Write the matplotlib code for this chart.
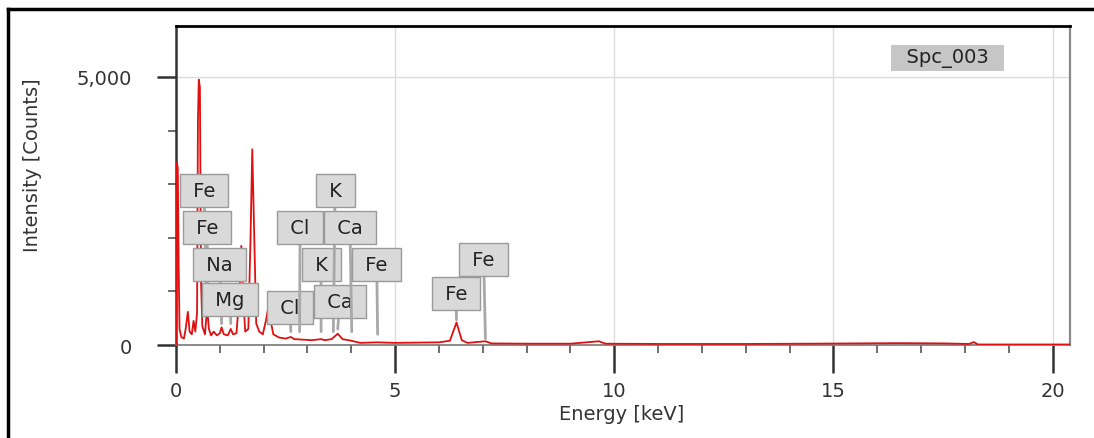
import matplotlib
matplotlib.use("Agg")
import matplotlib.pyplot as plt
from matplotlib.ticker import MultipleLocator, FuncFormatter
from matplotlib.lines import Line2D

plt.rcParams['font.family'] = ['DejaVu Sans']

# spectrum (keV, counts)
energy = [0.00, 0.02, 0.04, 0.06, 0.08, 0.12, 0.18, 0.22, 0.27, 0.31, 0.36, 0.40,
          0.44, 0.48, 0.50, 0.52, 0.545, 0.57, 0.60, 0.66, 0.71, 0.75, 0.80, 0.86,
          0.93, 1.00, 1.04, 1.09, 1.18, 1.25, 1.30, 1.38, 1.45, 1.49, 1.53, 1.58,
          1.65, 1.70, 1.74, 1.78, 1.83, 1.90, 1.98, 2.05, 2.10, 2.16, 2.22, 2.35,
          2.50, 2.62, 2.70, 2.90, 3.10, 3.31, 3.40, 3.55, 3.69, 3.80, 4.00, 4.20,
          4.60, 5.00, 5.50, 6.00, 6.25, 6.40, 6.52, 6.65, 7.06, 7.20, 8.00, 9.00,
          9.65, 9.80, 11.0, 13.0, 14.5, 15.5, 16.5, 17.5, 18.1, 18.2, 18.3, 19.0, 20.4]
counts = [0, 3400, 3300, 1500, 300, 150, 120, 300, 620, 250, 200, 450,
          250, 600, 4200, 4950, 4800, 1200, 350, 200, 700, 300, 180, 250,
          180, 220, 330, 200, 180, 300, 200, 220, 1000, 1850, 900, 250,
          300, 2000, 3650, 2200, 400, 250, 200, 450, 680, 450, 200, 140,
          120, 150, 110, 100, 90, 110, 90, 110, 210, 110, 80, 40,
          50, 40, 45, 50, 80, 420, 90, 40, 70, 30, 25, 25,
          70, 25, 20, 20, 25, 30, 35, 30, 20, 55, 10, 10, 10]

# peak labels: element, line energy, tip height, label position (keV, counts)
elements = ['Fe', 'Fe', 'Na', 'Mg', 'Cl', 'Cl', 'K', 'K', 'Ca', 'Ca', 'Fe', 'Fe', 'Fe']
line_kev = [0.70, 0.72, 1.04, 1.25, 2.62, 2.82, 3.31, 3.59, 3.69, 4.01, 4.60, 6.40, 7.06]
tip_cnt = [800, 800, 400, 400, 250, 250, 250, 250, 300, 250, 200, 470, 120]
label_kev = [0.64, 0.71, 1.00, 1.23, 2.60, 2.83, 3.31, 3.63, 3.74, 3.97, 4.58, 6.39, 7.02]
label_cnt = [2873, 2201, 1511, 858, 709, 2183, 1511, 2873, 821, 2183, 1493, 970, 1604]

fig = plt.figure(figsize=(10.94, 4.39), dpi=100)
ax = fig.add_axes([0.1609, 0.2118, 0.8172, 0.7267])

ax.plot(energy, counts, color='#e01010', lw=1.3, zorder=3)

for el, e, t, lx, ly in zip(elements, line_kev, tip_cnt, label_kev, label_cnt):
    ax.annotate(' ' + el + ' ', xy=(e, t), xytext=(lx, ly), ha='center', va='center',
                fontsize=14, color='#222222', zorder=4,
                bbox=dict(boxstyle='square,pad=0.36', fc='#d9d9d9', ec='#9a9a9a', lw=1),
                arrowprops=dict(arrowstyle='-', color='#a8a8a8', lw=2, shrinkA=0, shrinkB=0))

ax.text(17.6, 5354, '  Spc_003  ', ha='center', va='center', fontsize=14, color='#222222',
        bbox=dict(boxstyle='square,pad=0.16', fc='#c6c6c6', ec='none'))

ax.set_xlim(0, 20.4)
ax.set_ylim(0, 5950)
ax.xaxis.set_major_locator(MultipleLocator(5))
ax.xaxis.set_minor_locator(MultipleLocator(1))
ax.yaxis.set_major_locator(MultipleLocator(5000))
ax.yaxis.set_minor_locator(MultipleLocator(1000))
ax.yaxis.set_major_formatter(FuncFormatter(lambda v, p: f'{int(v):,}'))

ax.grid(True, which='major', color='#dcdcdc', lw=1)
ax.set_axisbelow(True)

ax.tick_params(axis='x', which='major', length=20, width=1.8, pad=6, labelsize=14,
               color='#333333', labelcolor='#333333')
ax.tick_params(axis='x', which='minor', length=6, width=1.2, color='#555555')
ax.tick_params(axis='y', which='major', length=14, width=1.8, pad=18, labelsize=14,
               color='#333333', labelcolor='#333333')
ax.tick_params(axis='y', which='minor', length=6, width=1.2, color='#555555')

ax.spines['top'].set_color('black')
ax.spines['top'].set_linewidth(2)
ax.spines['left'].set_color('#333333')
ax.spines['left'].set_linewidth(1.8)
ax.spines['right'].set_color('#8a8a8a')
ax.spines['right'].set_linewidth(1.6)
ax.spines['bottom'].set_color('#777777')
ax.spines['bottom'].set_linewidth(1.2)

ax.set_ylabel('Intensity [Counts]', fontsize=14, color='#333333')
ax.yaxis.set_label_coords(-0.150, 0.567)
ax.set_xlabel('Energy [keV]', fontsize=14, color='#333333')
ax.xaxis.set_label_coords(0.498, -0.186)

# outer frame (top and left edges)
fig.add_artist(Line2D([8 / 1094, 1.0], [1 - 10 / 439, 1 - 10 / 439], color='black', lw=2.5))
fig.add_artist(Line2D([8 / 1094, 8 / 1094], [0.0, 1 - 10 / 439], color='black', lw=2.5))

fig.savefig('out.png', dpi=100)
